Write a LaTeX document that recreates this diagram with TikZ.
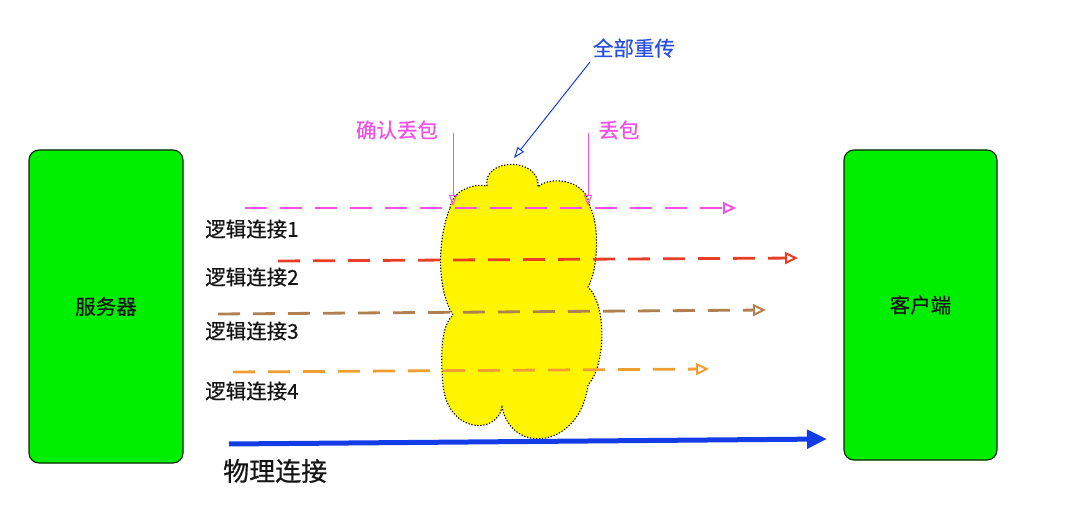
\documentclass[tikz,border=0pt]{standalone}
\usepackage{fontspec}
\setmainfont{Noto Sans CJK SC}[FakeBold=0.6]
\usetikzlibrary{arrows.meta}
\definecolor{pinkc}{RGB}{242,80,230}
\definecolor{redc}{RGB}{232,62,38}
\definecolor{brownc}{RGB}{176,128,80}
\definecolor{orangec}{RGB}{240,158,50}
\definecolor{bluec}{RGB}{20,60,230}
\definecolor{bluetext}{RGB}{40,80,220}
\definecolor{greenc}{RGB}{0,238,0}
\definecolor{yellowc}{RGB}{255,245,0}
\definecolor{textc}{RGB}{20,20,20}
\tikzset{
  hostbox/.style={draw=black!85!green, line width=1.1pt, fill=greenc, rounded corners=10pt,
    font=\fontsize{20.5}{24}\selectfont, text=textc},
  lbl/.style={font=\fontsize{20.5}{24}\selectfont, text=textc, inner sep=0pt, anchor=west},
  dl/.style={line width=2.8pt, dash pattern=on 22pt off 13pt,
    -{Triangle[open, length=13pt, width=12pt, line width=2pt]}},
  thinarrow/.style={line width=1pt, -{Triangle[open, length=11pt, width=8pt]}},
}
\begin{document}
\begin{tikzpicture}[x=1pt,y=-1pt]
\useasboundingbox (0,0) rectangle (1080,513);

% hosts
\node[hostbox, minimum width=154pt, minimum height=313pt] (server) at (106,306.5) {服务器};
\node[hostbox, minimum width=153pt, minimum height=310pt] (client) at (920.5,305) {客户端};

% cloud
\draw[fill=yellowc, draw=black, line width=1.1pt, dash pattern=on 1.3pt off 1.7pt]
  (450,208) .. controls (452,190) and (475,183) .. (487,186)
  .. controls (482,158) and (540,156) .. (538,187)
  .. controls (548,176) and (587,178) .. (590,207)
  .. controls (600,225) and (598,270) .. (588,287)
  .. controls (607,305) and (606,365) .. (588,385)
  .. controls (580,448) and (512,456) .. (502,407)
  .. controls (497,435) and (448,434) .. (443,385)
  .. controls (440,350) and (442,325) .. (453,315)
  .. controls (437,290) and (437,240) .. (450,208) -- cycle;

% logical connections
\coordinate (l1s) at (245,208); \coordinate (l1e) at (736,208);
\coordinate (l2s) at (278,261); \coordinate (l2e) at (798,258);
\coordinate (l3s) at (218,314); \coordinate (l3e) at (766,310);
\coordinate (l4s) at (233,372); \coordinate (l4e) at (709,369);
\draw[dl, pinkc] (l1s) -- (l1e);
\draw[dl, redc] (l2s) -- (l2e);
\draw[dl, brownc] (l3s) -- (l3e);
\draw[dl, orangec] (l4s) -- (l4e);

\node[lbl] (t1) at (205,229) {逻辑连接1};
\node[lbl] (t2) at (205,277) {逻辑连接2};
\node[lbl] (t3) at (205,331) {逻辑连接3};
\node[lbl] (t4) at (205,391) {逻辑连接4};

% physical connection
\coordinate (ps) at (229,444); \coordinate (pe) at (827,439);
\draw[bluec, line width=5pt, -{Triangle[length=20pt, width=18pt]}] (ps) -- (pe);
\node[lbl, font=\fontsize{26}{30}\selectfont] (phys) at (223,471) {物理连接};

% packet loss labels
\node[lbl, text=pinkc, anchor=center] (ack) at (397,130) {确认丢包};
\node[lbl, text=pinkc, anchor=center] (loss) at (619,130) {丢包};
\coordinate (a1s) at (453,133); \coordinate (a1e) at (453,206);
\coordinate (a2s) at (588,133); \coordinate (a2e) at (588,206);
\draw[thinarrow, pinkc] (a1s) -- (a1e);
\draw[thinarrow, pinkc] (a2s) -- (a2e);

% retransmit
\node[lbl, text=bluetext, anchor=center] (re) at (634,48) {全部重传};
\coordinate (rs) at (590,62); \coordinate (re2) at (514,158);
\draw[thinarrow, bluec] (rs) -- (re2);
\end{tikzpicture}
\end{document}
